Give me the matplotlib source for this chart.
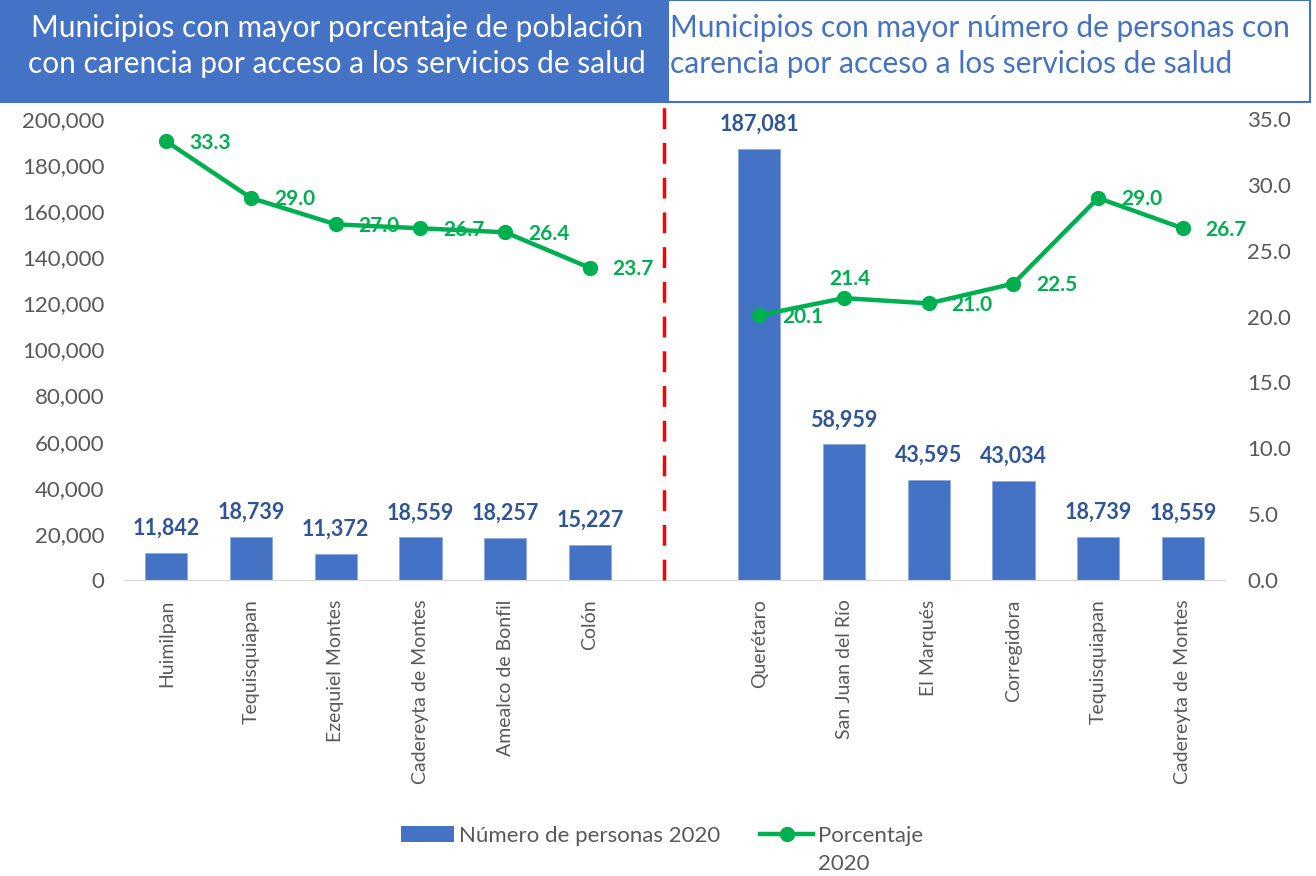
import matplotlib

matplotlib.use("Agg")
import matplotlib.pyplot as plt
import numpy as np
from matplotlib.lines import Line2D
from matplotlib.patches import Patch, Rectangle
from matplotlib.ticker import FuncFormatter

plt.rcParams["font.family"] = ["Lato", "DejaVu Sans"]

categories = [
    "Huimilpan", "Tequisquiapan", "Ezequiel Montes", "Cadereyta de Montes",
    "Amealco de Bonfil", "Colón", "",
    "Querétaro", "San Juan del Río", "El Marqués", "Corregidora",
    "Tequisquiapan", "Cadereyta de Montes",
]
personas = [11842, 18739, 11372, 18559, 18257, 15227, np.nan,
            187081, 58959, 43595, 43034, 18739, 18559]
porcentaje = [33.3, 29.0, 27.0, 26.7, 26.4, 23.7, np.nan,
              20.1, 21.4, 21.0, 22.5, 29.0, 26.7]

BLUE = "#4472C4"
DARK_BLUE = "#2F5597"
GREEN = "#00B050"
GRAY = "#595959"

fig = plt.figure(figsize=(13.16, 8.76), dpi=100)
ax = fig.add_axes([0.0942, 0.3379, 0.8368, 0.5263])
ax2 = ax.twinx()

x = np.arange(len(categories))
ax.bar(x, personas, width=0.5, color=BLUE, edgecolor="#8FAADC", linewidth=0.6, zorder=2)
for xi, v in zip(x, personas):
    if np.isnan(v):
        continue
    ax.text(xi, v + 6000, f"{int(v):,}", ha="center", va="bottom",
            fontsize=15.5, fontweight="bold", color=DARK_BLUE)

ax.set_xlim(-0.5, len(categories) - 0.5)
ax.set_ylim(0, 200000)
ax.set_yticks(np.arange(0, 200001, 20000))
ax.yaxis.set_major_formatter(FuncFormatter(lambda v, p: f"{int(v):,}"))
ax.set_xticks(x)
ax.set_xticklabels(categories, rotation=90, fontsize=14, color=GRAY)
ax.tick_params(axis="y", length=0, labelsize=16, labelcolor=GRAY, pad=14)
ax.tick_params(axis="x", length=0, pad=14)
for s in ["top", "right", "left"]:
    ax.spines[s].set_visible(False)
ax.spines["bottom"].set_color("#D9D9D9")

ax2.plot(x, porcentaje, color=GREEN, linewidth=3.2, marker="o", markersize=10, zorder=3)
for xi, v in zip(x, porcentaje):
    if np.isnan(v):
        continue
    if xi == 8:
        ax2.text(xi + 0.07, v + 1.45, f"{v:.1f}", ha="center", va="center",
                 fontsize=15, fontweight="bold", color=GREEN)
    else:
        ax2.text(xi + 0.27, v - 0.1, f"{v:.1f}", ha="left", va="center",
                 fontsize=15, fontweight="bold", color=GREEN)
ax2.set_ylim(0, 35)
ax2.set_yticks(np.arange(0, 35.1, 5))
ax2.yaxis.set_major_formatter(FuncFormatter(lambda v, p: f"{v:.1f}"))
ax2.tick_params(length=0, labelsize=16, labelcolor=GRAY, pad=16)
for s in ax2.spines.values():
    s.set_visible(False)

ax.axvline(5.88, ymin=0, ymax=1.03, color="#FF0000", linewidth=2.5,
           linestyle=(0, (6, 4)), clip_on=False, zorder=4)

# title boxes
fig.add_artist(Rectangle((0, 0.8824), 0.5076, 0.1176, transform=fig.transFigure,
                         facecolor=BLUE, edgecolor="none"))
fig.add_artist(Rectangle((0.5076, 0.8835), 0.4875, 0.116, transform=fig.transFigure,
                         facecolor="white", edgecolor=BLUE, linewidth=1.5))
fig.text(0.256, 0.947, "Municipios con mayor porcentaje de población\ncon carencia por acceso a los servicios de salud",
         ha="center", va="center", fontsize=21.5, color="white", linespacing=1.35)
fig.text(0.509, 0.947, "Municipios con mayor número de personas con\ncarencia por acceso a los servicios de salud",
         ha="left", va="center", fontsize=21.5, color=BLUE, linespacing=1.35)

handles = [Patch(facecolor=BLUE, edgecolor="none"),
           Line2D([0], [0], color=GREEN, linewidth=3.2, marker="o", markersize=10)]
leg = fig.legend(handles, ["Número de personas 2020", "Porcentaje"], ncol=2,
                 loc="center", bbox_to_anchor=(0.503, 0.0457), frameon=False,
                 fontsize=16, labelcolor=GRAY, handlelength=2.4, handletextpad=0.2,
                 columnspacing=1.8)
fig.canvas.draw()
bb = leg.get_texts()[1].get_window_extent().transformed(fig.transFigure.inverted())
fig.text(bb.x0, bb.y0 - 0.009, "2020", ha="left", va="top", fontsize=16, color=GRAY)

fig.savefig("out.png", dpi=100)
